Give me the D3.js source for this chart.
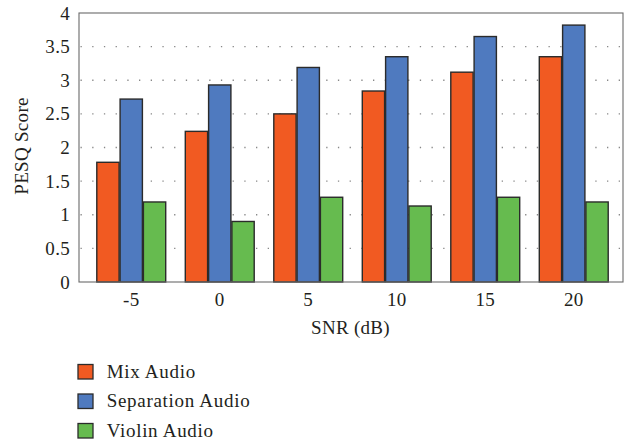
<!DOCTYPE html>
<html><head><meta charset="utf-8">
<script src="https://cdn.jsdelivr.net/npm/d3@7"></script>
<style>body{margin:0;background:#fff}svg{display:block}svg text{font-family:"Liberation Serif","DejaVu Serif",serif !important;fill:#231f20}</style>
</head><body><svg id="c" width="630" height="441"></svg>
<script>
const categories = ["-5","0","5","10","15","20"];
const seriesNames = ["Mix Audio","Separation Audio","Violin Audio"];
const mixAudio = [1.78,2.24,2.50,2.84,3.12,3.35];
const separationAudio = [2.72,2.93,3.19,3.35,3.65,3.82];
const violinAudio = [1.19,0.90,1.26,1.13,1.26,1.19];
const yTicks = [0,0.5,1,1.5,2,2.5,3,3.5,4];
const colors = ["#f15a22","#4f7abf","#66bb4f"];

const series = [mixAudio, separationAudio, violinAudio];
const svg = d3.select("#c");
const L=79, R=623, T=13, B=282;
const FS = 19;
const x = d3.scaleBand().domain(categories).range([87,618]).paddingInner(0.21).paddingOuter(0.105);
const xs = d3.scaleBand().domain(seriesNames).range([0,x.bandwidth()]);
const y = d3.scaleLinear().domain([0,4]).range([B,T]);

// grid
svg.append("g").selectAll("line").data(yTicks.filter(d=>d>0&&d<4)).join("line")
  .attr("x1",L+1.5).attr("x2",R).attr("y1",d=>y(d)).attr("y2",d=>y(d))
  .attr("stroke","#888").attr("stroke-width",1.3).attr("stroke-dasharray","1.3,10.4");

// bars
const g = svg.append("g");
series.forEach((vals,si)=>{
  g.append("g").selectAll("rect").data(vals).join("rect")
   .attr("x",(d,i)=>x(categories[i])+xs(seriesNames[si])+0.5)
   .attr("width",xs.bandwidth()-1)
   .attr("y",d=>y(d)).attr("height",d=>B-y(d))
   .attr("fill",colors[si]).attr("stroke","#2b2b2b").attr("stroke-width",1.4);
});

// frame
svg.append("rect").attr("x",L).attr("y",T).attr("width",R-L).attr("height",B-T)
  .attr("fill","none").attr("stroke","#6a6a6a").attr("stroke-width",1.1);

// y axis labels
const ya = svg.append("g").attr("transform",`translate(${L},0)`)
  .call(d3.axisLeft(y).tickValues(yTicks).tickSize(0).tickPadding(9).tickFormat(d=>String(d)));
ya.select(".domain").remove();
ya.selectAll("text").attr("font-size",FS).attr("letter-spacing",0.3);

const xa = svg.append("g").attr("transform",`translate(0,${B})`)
  .call(d3.axisBottom(x).tickSize(0).tickPadding(11));
xa.select(".domain").remove();
xa.selectAll("text").attr("font-size",FS).attr("letter-spacing",0.3);

svg.append("text").attr("x",350.5).attr("y",334).attr("text-anchor","middle").attr("font-size",FS).attr("letter-spacing",0.3).text("SNR (dB)");
svg.append("text").attr("transform",`translate(28,146) rotate(-90)`).attr("text-anchor","middle").attr("font-size",FS).attr("letter-spacing",0.3).text("PESQ Score");

// legend
const lg = svg.append("g").selectAll("g").data(seriesNames).join("g")
  .attr("transform",(d,i)=>`translate(78,${364.5+i*29.5})`);
lg.append("rect").attr("width",15).attr("height",14.5).attr("fill",(d,i)=>colors[i]).attr("stroke","#2b2b2b").attr("stroke-width",1.3);
lg.append("text").attr("x",28.7).attr("y",13).attr("font-size",FS).attr("letter-spacing",0.7).text(d=>d);
</script></body></html>
